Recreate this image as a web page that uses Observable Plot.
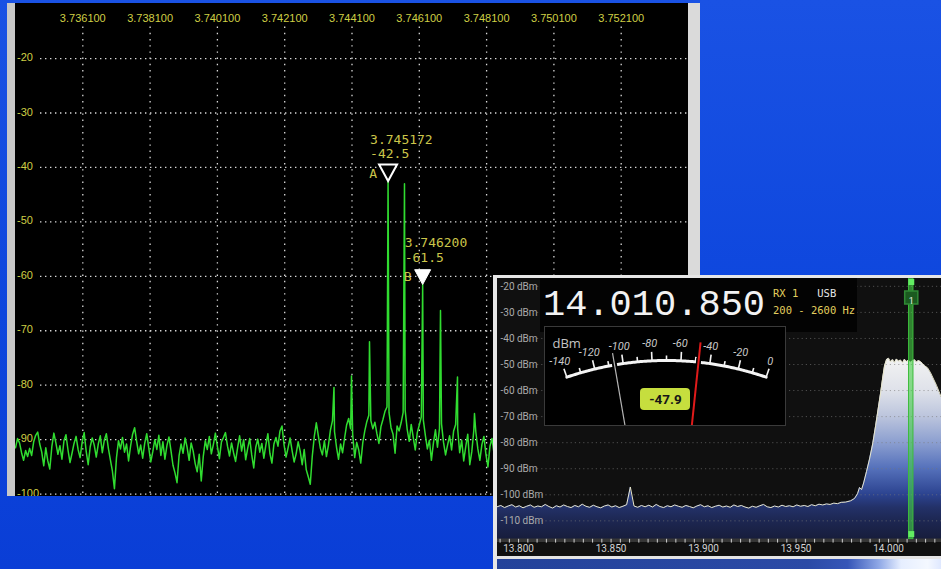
<!DOCTYPE html>
<html>
<head>
<meta charset="utf-8">
<script src="https://cdn.jsdelivr.net/npm/d3@7"></script>
<script src="https://cdn.jsdelivr.net/npm/@observablehq/plot@0.6"></script>
<style>
  html, body { margin: 0; padding: 0; }
  body {
    width: 941px; height: 569px; overflow: hidden; position: relative;
    background: linear-gradient(180deg, #1a52e4 0%, #0d46dd 55%, #0a3ed6 100%);
    font-family: "Liberation Sans", Arial, sans-serif;
  }
  #analyzer {
    position: absolute; left: 7px; top: 3px; width: 673px; height: 493px;
    background: #000; border-left: 8px solid #c8c8c8; border-right: 12px solid #dadada;
    overflow: hidden;
  }
  #receiver {
    position: absolute; left: 493px; top: 275px; width: 444px; height: 291px;
    background: #101010; border-left: 4px solid #e6e6e6; border-top: 3px solid #e6e6e6;
    overflow: hidden;
  }
  #receiver > div { position: absolute; }
  #tickband { left: 0; top: 260px; width: 444px; height: 4px; background: #363636; }
  #rxplot { left: 0; top: 0; }
  #readoutBox { left: 43px; top: 0; width: 317px; height: 54px; background: #030303; }
  #readout {
    left: 46px; top: 9px; font: 37px/37px "Liberation Mono", "DejaVu Sans Mono", monospace;
    color: #f2f2f2; white-space: pre;
  }
  .info { font: 10.5px/12px "DejaVu Sans Mono", monospace; white-space: pre; }
  #rxline { left: 276px; top: 9px; }
  #bwline { left: 276px; top: 26px; color: #e2cf5e; }
  #meter {
    left: 47px; top: 48px; width: 240px; height: 98px; background: #000;
    border: 1px solid #3a3a3a; overflow: hidden;
  }
  #divider { left: 0; top: 278px; width: 444px; height: 3px; background: #e4e4e4; }
  #waterfall {
    left: 0; top: 281px; width: 444px; height: 10px;
    background: linear-gradient(90deg, #23429a 0%, #2b4aa6 70%, #3656b8 79%, #8fa8e6 86%, #e6eeff 91%, #f4f8ff 97%, #dfe8ff 100%);
  }
</style>
</head>
<body>
<div id="analyzer"></div>
<div id="receiver">
  <div id="tickband"></div>
  <div id="rxplot"></div>
  <div id="readoutBox"></div>
  <div id="readout"></div>
  <div id="rxline" class="info"></div>
  <div id="bwline" class="info"></div>
  <div id="meter"></div>
  <div id="divider"></div>
  <div id="waterfall"></div>
</div>
<script>
// ---------- Spectrum analyzer (3.734–3.754 MHz) ----------
const specStart = 3.7341;      // MHz, first bin
const specStep = 0.00006;      // MHz per bin
const specLevels = [
  -91.5, -89.8, -90.6, -92.4, -93.8, -92.0, -93.1, -91.6, -92.9, -90.4,
  -89.2, -88.6, -90.8, -92.3, -94.8, -91.5, -93.9, -95.4, -91.3, -88.8,
  -90.6, -92.7, -91.1, -93.6, -90.2, -89.1, -91.9, -94.2, -92.5, -90.7,
  -89.4, -91.8, -93.3, -90.5, -88.7, -92.1, -94.6, -91.3, -89.7, -91.0,
  -93.2, -90.8, -89.3, -92.4, -90.1, -88.9, -91.6, -93.7, -95.8, -99.0,
  -93.4, -90.2, -91.7, -89.6, -92.3, -90.8, -93.9, -91.2, -89.0, -87.8,
  -90.3, -92.6, -91.0, -93.4, -90.7, -88.9, -91.5, -94.1, -92.2, -90.0,
  -91.8, -89.2, -92.9, -90.4, -93.6, -91.1, -89.5, -92.0, -94.7, -96.1,
  -97.9, -93.0, -90.8, -92.5, -89.7, -91.4, -93.8, -90.6, -92.1, -94.4,
  -95.9, -92.7, -97.6, -93.1, -90.2, -91.8, -89.4, -92.6, -90.9, -88.8,
  -91.3, -93.5, -90.4, -89.6, -88.7, -91.2, -93.0, -90.6, -92.4, -94.0,
  -91.5, -89.3, -92.1, -90.0, -93.7, -91.6, -89.8, -92.8, -95.2, -91.4,
  -89.9, -92.3, -90.7, -93.4, -91.0, -88.9, -92.5, -94.3, -90.8, -89.6,
  -91.2, -88.4, -87.5, -90.9, -93.2, -91.5, -89.7, -92.0, -94.1, -92.6,
  -90.4, -92.1, -94.6, -91.8, -95.5, -96.8, -98.2, -93.0, -89.4, -86.9,
  -89.3, -91.6, -92.8, -90.2, -93.1, -91.0, -88.2, -86.5, -88.5, -91.4,
  -93.6, -90.8, -92.4, -89.7, -87.3, -86.1, -88.0, -89.0, -93.3, -90.5,
  -91.9, -94.3, -90.6, -88.4, -86.7, -85.5, -86.5, -88.0, -86.8, -88.9,
  -90.7, -87.6, -86.3, -84.8, -84.0, -85.0, -87.8, -89.0, -92.5, -87.5,
  -88.4, -86.9, -85.0, -84.6, -88.1, -90.3, -87.2, -89.6, -91.9, -88.7,
  -87.3, -85.8, -86.4, -89.2, -91.7, -90.1, -93.8, -90.6, -88.2, -91.4,
  -87.9, -87.1, -90.5, -92.8, -91.0, -89.3, -91.9, -88.4, -87.2, -88.0,
  -92.4, -90.1, -93.9, -91.3, -89.0, -94.6, -92.2, -88.3, -88.6, -91.7,
  -93.8, -90.9, -89.4, -92.7, -95.0, -91.2, -89.8, -92.5, -90.6, -88.9
];
// intermodulation products that rise above the floor
const spikeFreqs  = [3.743565, 3.744085, 3.744620, 3.745172, 3.745660, 3.746200, 3.746730, 3.747235, 3.747740];
const spikeLevels = [-80.4, -78.3, -72.0, -42.5, -43.0, -61.5, -66.3, -78.5, -85.2];

const markerNames  = ["A", "B"];
const markerFreqs  = [3.745172, 3.746200];
const markerLevels = [-42.5, -61.5];

const freqTickLabels  = ["3.736100", "3.738100", "3.740100", "3.742100", "3.744100", "3.746100", "3.748100", "3.750100", "3.752100"];
const levelTickLabels = ["-20", "-30", "-40", "-50", "-60", "-70", "-80", "-90", "-100"];

const trace = specLevels.map((db, i) => ({f: specStart + i * specStep, db}))
  .concat(spikeFreqs.map((f, i) => ({f, db: spikeLevels[i]})))
  .sort((a, b) => a.f - b.f);
const markers = markerNames.map((name, i) => ({name, f: markerFreqs[i], db: markerLevels[i]}));

// downward triangle whose tip sits on the marked point
const markerTriangle = {
  draw(context, size) {
    const r = Math.sqrt(size / Math.PI);
    context.moveTo(0, 0);
    context.lineTo(-r, -1.85 * r);
    context.lineTo(r, -1.85 * r);
    context.closePath();
  }
};

const yellow = "#cfcf45";
const markerText = "#cbc54a";
const mono = "DejaVu Sans Mono, monospace";

const analyzer = Plot.plot({
  width: 673, height: 493,
  marginLeft: 0, marginRight: 0, marginTop: 0.6, marginBottom: 2.4,
  x: {domain: [3.7341, 3.7541], axis: null},
  y: {domain: [-100, -10], axis: null},
  style: {background: "#000", fontFamily: "Liberation Sans, Arial, sans-serif", fontSize: "11px", overflow: "hidden"},
  marks: [
    Plot.ruleY(levelTickLabels, {y: d => +d, stroke: "#d8d8d8", strokeWidth: 1.3, strokeDasharray: "1.4,3.6", insetLeft: 25}),
    Plot.ruleX(freqTickLabels, {x: d => +d, stroke: "#d8d8d8", strokeWidth: 1.3, strokeDasharray: "1.4,4.8", insetTop: 23}),
    Plot.text(freqTickLabels, {x: d => +d, text: d => d, frameAnchor: "top", dy: 9.6, fill: yellow}),
    Plot.text(levelTickLabels, {y: d => +d, text: d => d, frameAnchor: "left", dx: 1.5, dy: -1, textAnchor: "start", fill: yellow}),
    Plot.line(trace, {x: "f", y: "db", stroke: "#30dc30", strokeWidth: 1.5}),
    Plot.dot(markers.filter(m => m.name === "A"), {x: "f", y: "db", symbol: markerTriangle, r: 9, fill: "#000", stroke: "#fff", strokeWidth: 2}),
    Plot.dot(markers.filter(m => m.name === "B"), {x: "f", y: "db", symbol: markerTriangle, r: 8, fill: "#fff", stroke: "#fff", strokeWidth: 1}),
    Plot.text(markers, {x: "f", y: "db", text: "name", dx: -15, dy: -7.5, fill: markerText, fontFamily: mono, fontSize: 13}),
    Plot.text(markers, {x: "f", y: "db", text: d => d.f.toFixed(6), dx: -18, dy: -41.5, textAnchor: "start", fill: markerText, fontFamily: mono, fontSize: 13}),
    Plot.text(markers, {x: "f", y: "db", text: d => d.db.toFixed(1), dx: -18, dy: -27, textAnchor: "start", fill: markerText, fontFamily: mono, fontSize: 13})
  ]
});
document.getElementById("analyzer").append(analyzer);

// ---------- Receiver panorama (20 m band) ----------
const rxFloorStart = 13.7884;   // MHz
const rxFloorStep = 0.002;      // MHz per bin
const rxFloorLevels = [
  -104.6, -104.1, -104.9, -104.3, -103.8, -104.7, -104.2, -105.0, -104.4, -103.9,
  -104.8, -104.3, -104.6, -103.7, -104.5, -105.1, -104.2, -104.7, -103.9, -104.5,
  -104.9, -104.1, -104.6, -103.6, -104.4, -104.8, -104.0, -104.6, -105.0, -104.3,
  -103.9, -104.7, -104.2, -104.9, -104.4, -103.8, -97.0, -104.3, -104.8, -104.1,
  -104.6, -104.0, -104.7, -103.7, -104.5, -104.9, -104.2, -104.6, -103.9, -104.4,
  -104.8, -104.1, -104.5, -105.0, -104.3, -103.8, -104.6, -104.2, -104.9, -104.4,
  -104.0, -104.7, -104.3, -104.8, -103.9, -104.5, -104.1, -104.7, -105.1, -104.4,
  -104.8, -104.2, -103.7, -104.6, -104.9, -104.3, -104.7, -104.0, -104.5, -104.2,
  -104.6, -103.9, -104.4, -104.1, -104.5, -103.8, -104.2, -103.6, -103.9, -103.5,
  -103.7, -103.2, -103.4, -102.9
];
const rxSignalFreqs = [
  13.9768, 13.9795, 13.9816, 13.9832, 13.9843, 13.9854, 13.9865, 13.9881, 13.9897, 13.9914,
  13.9930, 13.9946, 13.9957, 13.9968, 13.9978, 13.9989, 14.0000, 14.0011, 14.0022, 14.0032,
  14.0043, 14.0054, 14.0065, 14.0076, 14.0086, 14.0097, 14.0108, 14.0119, 14.0130, 14.0141,
  14.0151, 14.0162, 14.0173, 14.0184, 14.0195, 14.0211, 14.0227, 14.0243, 14.0259, 14.0276,
  14.0292
];
const rxSignalLevels = [
  -102.8, -102.3, -101.4, -99.6, -97.2, -98.0, -95.5, -91.0, -86.3, -80.5,
  -73.5, -66.0, -60.9, -55.3, -50.6, -48.2, -47.6, -49.0, -48.1, -49.3,
  -47.9, -48.8, -48.3, -49.4, -48.0, -48.9, -48.4, -49.2, -48.6, -48.2,
  -49.1, -48.5, -48.9, -49.7, -50.5, -51.3, -53.2, -55.6, -58.0, -61.0,
  -63.8
];
const rxLevelTicks = [-20, -30, -40, -50, -60, -70, -80, -90, -100, -110];
const rxFreqLabels = ["13.800", "13.850", "13.900", "13.950", "14.000"];
const rxMinorTicks = d3.range(13790, 14030, 5).map(k => k / 1000);

const tunedMHz = 14.01085;
const passLoHz = 200, passHiHz = 2600;
const meterReading = -47.9;
const meterHold = -106;
const meterLabels = ["-140", "-120", "-100", "-80", "-60", "-40", "-20", "0"];
const meterTicks = [-140, -130, -120, -110, -100, -90, -80, -70, -60, -50, -40, -30, -20, -10, 0];

const rxDomain = [-117, -17];
const rxTrace = rxFloorLevels.map((db, i) => ({f: rxFloorStart + i * rxFloorStep, db}))
  .concat(rxSignalFreqs.map((f, i) => ({f, db: rxSignalLevels[i]})));

const passLo = tunedMHz + passLoHz / 1e6, passHi = tunedMHz + passHiHz / 1e6;
const passMid = (passLo + passHi) / 2;

const rxPlot = Plot.plot({
  width: 444, height: 278,
  marginLeft: 0, marginRight: 0, marginTop: 0, marginBottom: 17.4,
  x: {
    domain: [13.7886, 14.0286], label: null, ticks: rxMinorTicks, tickSize: 4, tickPadding: 2,
    tickFormat: d => rxFreqLabels.find(l => Math.abs(+l - d) < 1e-6) ?? ""
  },
  y: {domain: rxDomain, axis: null},
  style: {background: "transparent", color: "#d2d2d2", fontFamily: "Roboto, sans-serif", fontSize: "10px", overflow: "hidden"},
  marks: [
    Plot.areaY(rxTrace, {x: "f", y1: rxDomain[0], y2: "db", fill: "url(#rxFill)"}),
    Plot.ruleY(rxLevelTicks, {stroke: "#7a7a7a", strokeOpacity: 0.6, strokeDasharray: "1.2,3", insetLeft: 40}),
    Plot.text(rxLevelTicks, {y: d => d, text: d => `${d} dBm`, frameAnchor: "left", dx: 3, textAnchor: "start", fill: "#ababab", fontSize: 10}),
    Plot.line(rxTrace, {x: "f", y: "db", stroke: "#e8e6cc", strokeWidth: 1}),
    Plot.rect([tunedMHz], {x1: () => passLo, x2: () => passHi, fill: "#46d046", fillOpacity: 0.6, stroke: "#3cbc3c", strokeWidth: 1}),
    Plot.dot([passMid], {x: d => d, frameAnchor: "top", dy: 3.5, symbol: "square", r: 3.4, fill: "#62ec62"}),
    Plot.dot([passMid], {x: d => d, frameAnchor: "bottom", dy: -5, symbol: "square", r: 3.4, fill: "#62ec62"}),
    Plot.dot([passMid], {x: d => d, frameAnchor: "top", dy: 19, symbol: "square", r: 7.4, fill: "#1b5a20", stroke: "#2f8a35"}),
    Plot.text(["1"], {x: () => passMid, frameAnchor: "top", dy: 19, text: d => d, fill: "#e8f4e8", fontSize: 9})
  ]
});
// vertical fill shading keyed to signal level
{
  const y = d3.scaleLinear(rxDomain, [260.6, 0]);
  const stops = [[-48, "#f2f2f2"], [-60, "#dfe2ea"], [-70, "#bcc5dd"], [-80, "#8c9fd0"], [-90, "#5571bb"],
                 [-100, "#2c4390"], [-105, "#233168"], [-110, "#1d2752"], [-117, "#171d3c"]];
  const defs = document.createElementNS("http://www.w3.org/2000/svg", "defs");
  defs.innerHTML = `<linearGradient id="rxFill" gradientUnits="userSpaceOnUse" x1="0" x2="0" y1="${y(-48)}" y2="${y(-117)}">` +
    stops.map(([v, c]) => `<stop offset="${((y(v) - y(-48)) / (y(-117) - y(-48))).toFixed(4)}" stop-color="${c}"/>`).join("") +
    `</linearGradient>`;
  rxPlot.prepend(defs);
}
document.getElementById("rxplot").append(rxPlot);

// frequency readout and mode text
const hz = String(Math.round(tunedMHz * 1e6));
document.getElementById("readout").textContent = `${hz.slice(0, -6)}.${hz.slice(-6, -3)}.${hz.slice(-3)}`;
document.getElementById("rxline").innerHTML = `<span style="color:#e2cf5e">RX 1</span>   <span style="color:#e6e6e6">USB</span>`;
document.getElementById("bwline").textContent = `${passLoHz} - ${passHiHz} Hz`;

// ---------- S-meter gauge ----------
// gauge coordinates: origin at the needle pivot, y measured upward
const meterSweep = 19 * Math.PI / 180;
const angle = v => ((v - (-140)) / 140 * 2 - 1) * meterSweep;
const px = (v, r) => r * Math.sin(angle(v));
const py = (v, r) => r * Math.cos(angle(v));
const arcR = 306, labelR = 323;
const arc = d3.range(-140, 0.01, 1).map(v => ({x: px(v, arcR), y: py(v, arcR)}));
const tickLen = v => (v % 20 === 0 ? 9 : 5);

const meter = Plot.plot({
  width: 240, height: 98, margin: 0,
  x: {domain: [-121, 119], range: [0, 240], axis: null},
  y: {domain: [241, 339], range: [98, 0], axis: null},
  style: {background: "#000", fontFamily: "Roboto, sans-serif", overflow: "hidden"},
  marks: [
    Plot.text(["dBm"], {frameAnchor: "top-left", dx: 7, dy: 11, text: d => d, textAnchor: "start", fill: "#c4c4c4", fontSize: 13, fontFamily: "Open Sans, sans-serif"}),
    Plot.line(arc, {x: "x", y: "y", stroke: "#f4f4f4", strokeWidth: 3}),
    Plot.link(meterTicks, {x1: v => px(v, arcR), y1: v => py(v, arcR), x2: v => px(v, arcR + tickLen(v)), y2: v => py(v, arcR + tickLen(v)), stroke: "#f4f4f4", strokeWidth: 1.6}),
    Plot.text(meterLabels, {x: d => px(+d, labelR), y: d => py(+d, labelR), text: d => d, dx: -1.5, fill: "#c8c8c8", fontSize: 11, fontStyle: "italic"}),
    // dark gap where each needle crosses the scale arc
    Plot.link([meterHold, meterReading], {x1: v => px(v, arcR - 4), y1: v => py(v, arcR - 4), x2: v => px(v, arcR + 4), y2: v => py(v, arcR + 4), stroke: "#000", strokeWidth: 5}),
    Plot.link([meterHold], {x1: v => px(v, 236), y1: v => py(v, 236), x2: v => px(v, 318), y2: v => py(v, 318), stroke: "#b4b4b4", strokeWidth: 1.2}),
    Plot.link([meterReading], {x1: v => px(v, 236), y1: v => py(v, 236), x2: v => px(v, 326), y2: v => py(v, 326), stroke: "#e01a1a", strokeWidth: 2}),
    Plot.rect([meterReading], {x1: -26, x2: 24, y1: 256, y2: 278, rx: 4, fill: "#c6de3e"}),
    Plot.text([meterReading], {x: -1, y: 267, text: d => d.toFixed(1), fill: "#161616", fontSize: 13.5, fontWeight: "bold"})
  ]
});
document.getElementById("meter").append(meter);
</script>
</body>
</html>
